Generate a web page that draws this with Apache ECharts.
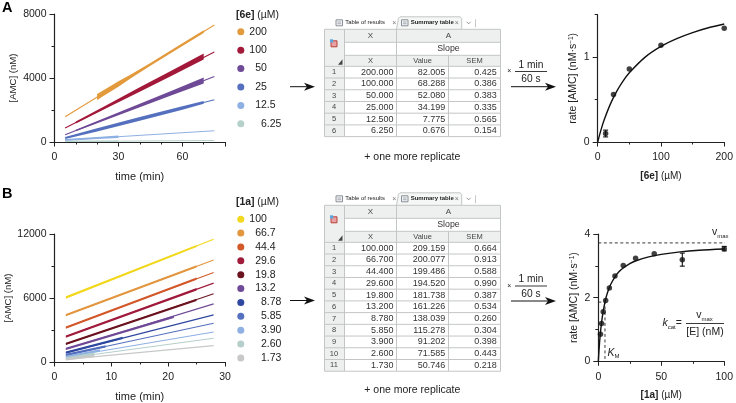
<!DOCTYPE html>
<html><head><meta charset="utf-8">
<style>html,body{margin:0;padding:0;background:#fff}#c{width:736px;height:403px}</style>
<script src="https://cdn.jsdelivr.net/npm/echarts@6/dist/echarts.min.js"></script>
</head><body><div id="c"></div>
<script>
const FONT='"Liberation Sans",Arial,sans-serif';
// Panel A: progress curves
const concA=['200','100','50','25','12.5','6.25'];
const colorsA=['#E39A3C','#A3193A','#6F4A97','#5570BE','#8FB0E3','#B6D1CC'];
const fitTimeA=[5,75];
const fitA=[[1580,7310],[875,5625],[456,4100],[250,2645],[125,706],[30,90]];
const bandTimeA=[
 [20,22,30,36,45,60,70],
 [10,25,40,55,70],
 [10,25,40,55,70],
 [5,20,40,60,70],
 [5,20,30],
 [5,30]];
const bandLowA=[
 [2610,2790,3450,3995,4760,5995,6815],
 [1158,2154,3140,4145,5150],
 [671,1422,2173,2919,3650],
 [180,663,1327,2021,2383],
 [55,180,252],
 [0,10]];
const bandHighA=[
 [3005,3150,3800,4235,4945,6165,6980],
 [1278,2344,3420,4475,5530],
 [761,1572,2383,3199,4030],
 [320,863,1567,2241,2563],
 [195,320,412],
 [80,100]];
// Panel B: progress curves
const concB=['100','66.7','44.4','29.6','19.8','13.2','8.78','5.85','3.90','2.60','1.73'];
const colorsB=['#F2D81E','#E39640','#D2592A','#A01C3C','#6B1420','#6F4A97','#2E479F','#5570BE','#8FB0E3','#B6CFCB','#C8C8C8'];
const fitTimeB=[2,28];
const fitB=[[6047,11500],[4386,9556],[3227,8397],[2381,7394],[1692,6391],[1222,5451],[877,4418],[658,3634],[470,2820],[345,2224],[250,1535]];
const bandTimeB=[[2,25],[2,25],[2,25],[2,25],[2,25],[2,21],[2,12],[2,9],[2,8],[2,7],[2,7]];
const bandLowB=[[5940,10770],[4280,8850],[3120,7700],[2275,6710],[1585,5710],[1115,4120],[770,2160],[550,1360],[360,990],[235,660],[140,460]];
const bandHighB=[[6160,10980],[4495,9070],[3335,7920],[2490,6930],[1800,5930],[1330,4330],[985,2370],[765,1570],[580,1200],[455,880],[360,680]];
// Tables
const tableXA=['200.000','100.000','50.000','25.000','12.500','6.250'];
const tableValueA=['82.005','68.288','52.080','34.199','7.775','0.676'];
const tableSemA=['0.425','0.386','0.383','0.335','0.565','0.154'];
const tableXB=['100.000','66.700','44.400','29.600','19.800','13.200','8.780','5.850','3.900','2.600','1.730'];
const tableValueB=['209.159','200.077','199.486','194.520','181.738','161.226','138.039','115.278','91.202','71.585','50.746'];
const tableSemB=['0.664','0.913','0.588','0.990','0.387','0.534','0.260','0.304','0.398','0.443','0.218'];
// Michaelis-Menten panels
const rateXA=[12.5,25,50,100,200];
const rateYA=[0.10,0.56,0.86,1.14,1.34];
const errXA=[12.5];
const errLowA=[0.06];
const errHighA=[0.14];
const curveXA=[0,5,10,20,30,40,50,75,100,125,150,175,200];
const curveYA=[0,0.137,0.255,0.446,0.597,0.718,0.816,1.0,1.126,1.218,1.289,1.346,1.39];
const rateXB=[1.73,2.6,3.9,5.85,8.78,13.2,19.8,29.6,44.4,66.7,100];
const rateYB=[0.85,1.19,1.56,1.91,2.30,2.68,3.01,3.24,3.38,3.19,3.54];
const errXB=[66.7,100];
const errLowB=[2.99,3.47];
const errHighB=[3.40,3.61];
const curveXB=[0,1,2,3,4,6,8,10,13,16,20,25,30,40,50,65,80,100];
const curveYB=[0,0.59,1.02,1.34,1.60,1.98,2.24,2.43,2.64,2.80,2.94,3.07,3.16,3.28,3.36,3.44,3.49,3.53];
const vmaxLine=[[0,3.72],[102,3.72]];
const kmLine=[[0,1.86],[5.3,1.86],[5.3,0]];

const AX='#222';
const grids=[
 {left:54.5,top:14,width:170.5,height:128},
 {left:54.5,top:234,width:170.5,height:128},
 {left:597.7,top:14.7,width:128,height:127.3},
 {left:598.3,top:234,width:127.7,height:127.3}];
const textBase={fontFamily:FONT,fontSize:10.5,color:'#222'};
const rich={b:{fontFamily:FONT,fontSize:10,fontWeight:'bold',color:'#222'},n:{fontFamily:FONT,fontSize:10,color:'#222'},
 r:{fontFamily:FONT,fontSize:10.5,color:'#222'},
 s:{fontFamily:FONT,fontSize:6.5,color:'#222',verticalAlign:'top'}};
const xAxis=[],yAxis=[];
function addAxes(i,x,y){
 xAxis.push({type:'value',gridIndex:i,min:x.min,max:x.max,position:'bottom',name:x.name,nameLocation:'middle',nameGap:x.nameGap,
  nameTextStyle:{...textBase,fontSize:x.nameSize||10,rich},splitLine:{show:false},
  axisLine:{onZero:false,lineStyle:{color:AX,width:1.2}},
  axisTick:{length:4.5,customValues:x.major,lineStyle:{color:AX,width:1}},
  axisLabel:{...textBase,margin:10,customValues:x.labels,formatter:v=>String(v),showMinLabel:true,showMaxLabel:true,hideOverlap:false}});
 xAxis.push({type:'value',gridIndex:i,min:x.min,max:x.max,position:'bottom',splitLine:{show:false},axisLine:{show:false,onZero:false},
  axisLabel:{show:false},axisTick:{length:2.5,customValues:x.minor,lineStyle:{color:AX,width:1}}});
 yAxis.push({type:'value',gridIndex:i,min:y.min,max:y.max,position:'left',name:y.name,nameLocation:'middle',nameGap:y.nameGap,nameRotate:90,
  nameTextStyle:{...textBase,fontSize:9.6,rich},splitLine:{show:false},
  axisLine:{onZero:false,lineStyle:{color:AX,width:1.2}},
  axisTick:{length:5,customValues:y.major,lineStyle:{color:AX,width:1}},
  axisLabel:{...textBase,margin:8,customValues:y.labels,formatter:v=>String(v),showMinLabel:true,showMaxLabel:true,hideOverlap:false}});
 yAxis.push({type:'value',gridIndex:i,min:y.min,max:y.max,position:'left',splitLine:{show:false},axisLine:{show:false,onZero:false},
  axisLabel:{show:false},axisTick:{length:3,customValues:y.minor,lineStyle:{color:AX,width:1}}});
}
addAxes(0,{min:0,max:80,name:'time (min)',nameSize:11,nameGap:29,major:[0,30,60,80],labels:[0,30,60],minor:[10,20,40,50,70]},
 {min:0,max:8000,name:'[AMC] (nM)',nameGap:36,major:[0,4000,8000],labels:[0,4000,8000],minor:[2000,6000]});
addAxes(1,{min:0,max:30,name:'time (min)',nameSize:11,nameGap:29,major:[0,10,20,30],labels:[0,10,20,30],minor:[5,15,25]},
 {min:0,max:12000,name:'[AMC] (nM)',nameGap:36,major:[0,6000,12000],labels:[0,6000,12000],minor:[3000,9000]});
addAxes(2,{min:0,max:200,name:'{b|[6e]} {n|(µM)}',nameGap:29,major:[0,100,200],labels:[0,100,200],minor:[50,150]},
 {min:0,max:1.5,name:'{r|rate [AMC] (nM·s}{s|−1}{r|)}',nameGap:19,major:[0,1],labels:[0,1],minor:[0.5,1.5]});
addAxes(3,{min:0,max:100,name:'{b|[1a]} {n|(µM)}',nameGap:29,major:[0,50,100],labels:[0,50,100],minor:[25,75]},
 {min:0,max:4,name:'{r|rate [AMC] (nM·s}{s|−1}{r|)}',nameGap:19,major:[0,2,4],labels:[0,2,4],minor:[1,3]});

const series=[];
function progress(prefix,panel,conc,colors,fitT,fit,bT,bL,bH){
 conc.forEach((c,i)=>{
  const rows=bT[i].map((t,k)=>[t,bL[i][k],bH[i][k]]);
  series.push({type:'custom',name:'band '+prefix+c,xAxisIndex:panel*2,yAxisIndex:panel*2,data:rows,silent:true,z:2+i,
   encode:{x:0,y:[1,2]},
   renderItem:(params,api)=>{
    if(params.dataIndex!==rows.length-1)return null;
    const up=rows.map(r=>api.coord([r[0],r[2]]));
    const lo=rows.map(r=>api.coord([r[0],r[1]])).reverse();
    return {type:'polygon',shape:{points:up.concat(lo)},style:{fill:colors[i]}};
   }});
  series.push({type:'line',name:prefix+c,xAxisIndex:panel*2,yAxisIndex:panel*2,showSymbol:false,silent:true,z:2+i,
   data:fitT.map((t,k)=>[t,fit[i][k]]),lineStyle:{color:colors[i],width:1.1},itemStyle:{color:colors[i]}});
 });
}
progress('6e ',0,concA,colorsA,fitTimeA,fitA,bandTimeA,bandLowA,bandHighA);
progress('1a ',1,concB,colorsB,fitTimeB,fitB,bandTimeB,bandLowB,bandHighB);

function rate(panel,xs,ys,eX,eL,eH,cX,cY){
 series.push({type:'line',xAxisIndex:panel*2,yAxisIndex:panel*2,showSymbol:false,silent:true,smooth:0.3,z:3,
  data:cX.map((x,i)=>[x,cY[i]]),lineStyle:{color:'#111',width:1.4}});
 series.push({type:'scatter',xAxisIndex:panel*2,yAxisIndex:panel*2,silent:true,symbolSize:5.5,z:4,
  data:xs.map((x,i)=>[x,ys[i]]),itemStyle:{color:'#111'}});
 series.push({type:'custom',xAxisIndex:panel*2,yAxisIndex:panel*2,silent:true,z:4,encode:{x:0,y:[1,2]},
  data:eX.map((x,i)=>[x,eL[i],eH[i]]),
  renderItem:(params,api)=>{
   const a=api.coord([api.value(0),api.value(1)]),b=api.coord([api.value(0),api.value(2)]);
   const st={stroke:'#111',lineWidth:1.1};
   return {type:'group',children:[
    {type:'line',shape:{x1:a[0],y1:a[1],x2:b[0],y2:b[1]},style:st},
    {type:'line',shape:{x1:a[0]-2.5,y1:a[1],x2:a[0]+2.5,y2:a[1]},style:st},
    {type:'line',shape:{x1:b[0]-2.5,y1:b[1],x2:b[0]+2.5,y2:b[1]},style:st}]};
  }});
}
rate(2,rateXA,rateYA,errXA,errLowA,errHighA,curveXA,curveYA);
rate(3,rateXB,rateYB,errXB,errLowB,errHighB,curveXB,curveYB);
[vmaxLine,kmLine].forEach(d=>series.push({type:'line',xAxisIndex:6,yAxisIndex:6,showSymbol:false,silent:true,z:2,clip:false,
 data:d,lineStyle:{color:'#222',width:0.9,type:[3,2.5]}}));

// padding keeps the reference's staggered legend labels
const legendFmt=n=>{const v=n.slice(3),num=parseFloat(v);const p=num>=100?'':num>=10?'\u00A0\u00A0':'\u00A0\u00A0\u00A0\u00A0';return p+v;};
const mkLegend=(prefix,conc,top,gap)=>({show:true,orient:'vertical',left:237.3,top,padding:0,itemGap:gap,itemWidth:7,itemHeight:7,icon:'circle',
 selectedMode:false,inactiveColor:'#ccc',data:conc.map(c=>prefix+c),formatter:legendFmt,textStyle:{...textBase,lineHeight:10}});

// overlays
const g=[];
const T=(text,x,y,o={})=>g.push({type:'text',silent:true,z:10,style:{text,x,y,font:`${o.w||'normal'} ${o.s||10.5}px ${FONT}`,fill:o.c||'#222',
 align:o.a||'left',verticalAlign:'middle',rich:o.rich}});
const L=(x1,y1,x2,y2,c='#222',w=1)=>g.push({type:'line',silent:true,z:9,shape:{x1,y1,x2,y2},style:{stroke:c,lineWidth:w}});
const R=(x,y,w,h,fill,stroke)=>g.push({type:'rect',silent:true,z:8,shape:{x,y,width:w,height:h},style:{fill,stroke:stroke||null,lineWidth:1}});
const arrow=(x1,x2,y)=>{L(x1,y,x2-6,y,'#111',1);
 g.push({type:'polygon',silent:true,z:9,shape:{points:[[x2,y],[x2-11,y-4],[x2-8,y],[x2-11,y+4]]},style:{fill:'#111'}});};

function table(top,xs,vals,sems){
 const cols=[324.5,344.5,396.5,448.5,500.5];
 const yT=top,y1=top+13,y2=top+26,y3=top+37,rh=11.72;
 const yB=y3+rh*xs.length;
 const grey='#EEF0F0',line='#C4C6C6',hdr='#444';
 // tabs
 g.push({type:'polyline',silent:true,z:7,shape:{points:[[396.5,yT],[398.5,yT-11],[400,yT-12.5],[460,yT-12.5],[461.7,yT-11],[461.7,yT]]},style:{stroke:'#C4C6C6',fill:'#F5F7F7',lineWidth:1}});
 [[336,yT-6.5],[401.5,yT-6.5]].forEach(([x,y])=>{R(x,y-3,6.5,6,'#F0F2F4','#8a9098');L(x+1.5,y-0.8,x+5,y-0.8,'#8a9098',0.7);L(x+1.5,y+0.9,x+5,y+0.9,'#8a9098',0.7);});
 T('Table of results',345.3,yT-6.5,{s:5.9,c:'#222'});
 T('Summary table',410.7,yT-6.5,{s:6,w:'bold',c:'#222'});
 T('×',394.3,yT-6.5,{s:7,c:'#777',a:'center'});
 T('×',456.8,yT-6.5,{s:7,c:'#777',a:'center'});
 g.push({type:'polyline',silent:true,z:9,shape:{points:[[466.7,yT-7.5],[468.7,yT-5.5],[470.7,yT-7.5]]},style:{stroke:'#777',fill:null,lineWidth:0.8}});
 L(475.5,yT-10,475.5,yT-2,'#bbb',0.8);
 // header and gutter fills
 R(cols[0],yT,cols[1]-cols[0],yB-yT,grey);
 R(cols[1],yT,cols[4]-cols[1],y1-yT,grey);
 R(cols[1],y2,cols[4]-cols[1],y3-y2,grey);
 // grid lines
 [yT,y1,y2,y3].forEach((y,i)=>L(i==1||i==2?cols[1]:cols[0],y,cols[4],y,line));
 xs.forEach((_,i)=>L(cols[0],y3+rh*(i+1),cols[4],y3+rh*(i+1),line));
 cols.forEach((x,i)=>L(x,(i==3)?y2:yT,x,yB,line));
 // header text
 T('X',370.5,(yT+y1)/2,{s:8,a:'center',c:hdr});
 T('A',448.5,(yT+y1)/2,{s:8,a:'center',c:hdr});
 T('Slope',448.5,(y1+y2)/2,{s:8.8,a:'center',c:'#333'});
 T('X',370.5,(y2+y3)/2,{s:7.5,a:'center',c:hdr});
 T('Value',422.5,(y2+y3)/2,{s:7.5,a:'center',c:hdr});
 T('SEM',474.5,(y2+y3)/2,{s:7.5,a:'center',c:hdr});
 // corner marker + icon
 g.push({type:'polygon',silent:true,z:9,shape:{points:[[342.5,y2+4],[342.5,y3-1.5],[338,y3-1.5]]},style:{fill:'#444'}});
 R(331,yT+11.5,6,6,'#E8A0A0','#B8433B');
 R(330,yT+10,3.2,3.2,'#58A7E0');
 // body
 xs.forEach((x,i)=>{const y=y3+rh*(i+0.5);
  T(String(i+1),334,y,{s:7.5,a:'center',c:hdr});
  T(x,393.5,y,{s:9,a:'right',c:'#333'});
  T(vals[i],445.2,y,{s:9,a:'right',c:'#333'});
  T(sems[i],496.8,y,{s:9,a:'right',c:'#333'});
 });
}
table(29.3,tableXA,tableValueA,tableSemA);
table(205.3,tableXB,tableValueB,tableSemB);

T('A',2,7.5,{s:14.5,w:'bold',c:'#000'});
T('B',2,194,{s:14.5,w:'bold',c:'#000'});
const titleRich={b:{fontFamily:FONT,fontSize:10.4,fontWeight:'bold',fill:'#222'},n:{fontFamily:FONT,fontSize:10.4,fill:'#222'}};
T('{b|[6e]}{n| (µM)}',236,15,{rich:titleRich});
T('{b|[1a]}{n| (µM)}',236,202,{rich:titleRich});
T('+ one more replicate',412.3,157,{a:'center'});
T('+ one more replicate',412.3,390.3,{a:'center'});
arrow(290,315,86.7);arrow(290,315,300.5);
[[65,71.5,79.3,86.7],[279,286,293.7,301]].forEach(([a,b,c,d])=>{
 T('1 min',531,a,{a:'center',s:10.2});L(515,b,547,b,'#222',0.9);T('60 s',531,c,{a:'center',s:10.2});
 T('×',509.3,b,{s:7,a:'center'});arrow(511,556,d);});
// annotations panel B rate
const sub={v:{fontFamily:FONT,fontSize:10.5,fill:'#222'},k:{fontFamily:FONT,fontSize:10.5,fontStyle:'italic',fill:'#222'},
 s:{fontFamily:FONT,fontSize:6,fill:'#222',verticalAlign:'bottom',padding:[0,0,-1,0]}};
T('{v|v}{s|max}',712,232.5,{rich:sub});
T('{v|v}{s|max}',704.5,315.5,{rich:sub,a:'center'});
T('{k|k}{s|cat}{v|=}',662.5,323.5,{rich:sub});
L(686,323.5,724,323.5,'#222',0.9);
T('[E] (nM)',705,331.7,{a:'center'});
T('{k|K}{s|M}',607.5,353,{rich:sub});

const chart=echarts.init(document.getElementById('c'),null,{renderer:'canvas'});
chart.setOption({animation:false,backgroundColor:'#fff',textStyle:{fontFamily:FONT},grid:grids,xAxis,yAxis,series,
 legend:[mkLegend('6e ',concA,26.3,7.4),mkLegend('1a ',concB,213.7,2.87)],graphic:g});
</script></body></html>
